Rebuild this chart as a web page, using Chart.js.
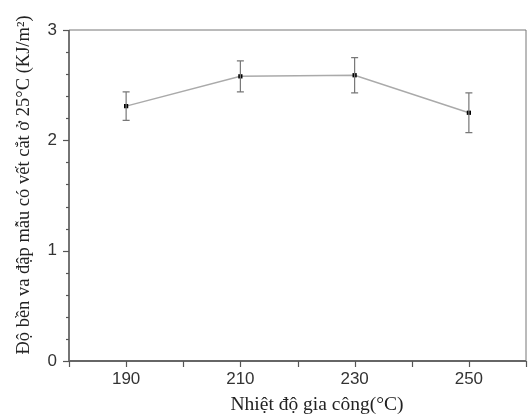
<!DOCTYPE html>
<html>
<head>
<meta charset="utf-8">
<script src="https://cdn.jsdelivr.net/npm/chart.js@4/dist/chart.umd.min.js"></script>
<style>
html,body{margin:0;padding:0;background:#fff;}
#wrap{width:530px;height:417px;position:relative;}
</style>
</head>
<body>
<div id="wrap"><canvas id="c" width="530" height="417"></canvas></div>
<script>
const temperatures = [190, 210, 230, 250];
const strength = [2.31, 2.58, 2.59, 2.25];
const errLow = [2.18, 2.44, 2.43, 2.07];
const errHigh = [2.44, 2.72, 2.75, 2.43];
const xLabelTicks = [190, 210, 230, 250];
const yLabelTicks = [0, 1, 2, 3];
const xTitle = 'Nhiệt độ gia công(°C)';
const yTitle = 'Độ bền va đập mẫu có vết cắt ở 25°C (KJ/m²)';

const overlay = {
  id: 'overlay',
  afterDatasetsDraw(chart) {
    const ctx = chart.ctx, a = chart.chartArea;
    const xs = chart.scales.x, ys = chart.scales.y;
    ctx.save();
    ctx.strokeStyle = '#777';
    ctx.lineWidth = 1.2;
    temperatures.forEach((t, i) => {
      const px = xs.getPixelForValue(t);
      const y1 = ys.getPixelForValue(errLow[i]);
      const y2 = ys.getPixelForValue(errHigh[i]);
      ctx.beginPath();
      ctx.moveTo(px, y1); ctx.lineTo(px, y2);
      ctx.moveTo(px - 3.5, y1); ctx.lineTo(px + 3.5, y1);
      ctx.moveTo(px - 3.5, y2); ctx.lineTo(px + 3.5, y2);
      ctx.stroke();
    });
    ctx.restore();
  },
  afterDraw(chart) {
    const ctx = chart.ctx, a = chart.chartArea;
    const xs = chart.scales.x, ys = chart.scales.y;
    ctx.save();
    ctx.strokeStyle = '#777';
    ctx.lineWidth = 1;
    ctx.beginPath();
    ctx.moveTo(a.left, a.top); ctx.lineTo(a.right, a.top);
    ctx.lineTo(a.right, a.bottom);
    ctx.stroke();
    ctx.strokeStyle = '#666';
    ctx.lineWidth = 1.8;
    ctx.beginPath();
    ctx.moveTo(a.left, a.top); ctx.lineTo(a.left, a.bottom); ctx.lineTo(a.right, a.bottom);
    ctx.stroke();
    ctx.lineWidth = 1.2;
    ctx.strokeStyle = '#555';
    for (let v = 0; v <= 3.0001; v += 0.2) {
      const py = Math.round(ys.getPixelForValue(v)) + 0.5;
      const major = Math.abs(v - Math.round(v)) < 1e-6;
      ctx.beginPath();
      ctx.moveTo(a.left, py); ctx.lineTo(a.left - (major ? 6 : 3), py);
      ctx.stroke();
    }
    for (let v = 180; v <= 260; v += 10) {
      const px = Math.round(xs.getPixelForValue(v)) + 0.5;
      ctx.beginPath();
      ctx.moveTo(px, a.bottom); ctx.lineTo(px, a.bottom + 6);
      ctx.stroke();
    }
    ctx.fillStyle = '#222';
    ctx.textAlign = 'center';
    ctx.textBaseline = 'middle';
    ctx.font = '19.5px "Liberation Serif", "DejaVu Serif", serif';
    ctx.fillText(xTitle, 317, 405);
    ctx.font = '18.5px "Liberation Serif", "DejaVu Serif", serif';
    ctx.translate(24, 185);
    ctx.rotate(-Math.PI / 2);
    ctx.fillText(yTitle, 0, 0);
    ctx.restore();
  }
};

new Chart(document.getElementById('c'), {
  type: 'scatter',
  data: {
    datasets: [{
      data: temperatures.map((t, i) => ({x: t, y: strength[i]})),
      showLine: true,
      borderColor: '#aaa',
      borderWidth: 1.5,
      pointStyle: 'rect',
      pointRadius: 3,
      pointBackgroundColor: '#000',
      pointBorderColor: '#000',
      pointBorderWidth: 0
    }]
  },
  options: {
    responsive: false,
    animation: false,
    devicePixelRatio: 1,
    layout: {padding: {left: 0, right: 2, top: 30, bottom: 0}},
    plugins: {legend: {display: false}, tooltip: {enabled: false}},
    scales: {
      x: {
        type: 'linear', min: 180, max: 260,
        afterFit(s) { s.height = 56; },
        afterBuildTicks(s) { s.ticks = xLabelTicks.map(v => ({value: v})); },
        grid: {display: false, drawTicks: false},
        border: {display: false},
        ticks: {color: '#333', padding: 8, font: {family: '"Liberation Sans", Arial, sans-serif', size: 17}}
      },
      y: {
        min: 0, max: 3,
        afterFit(s) { s.width = 69; },
        afterBuildTicks(s) { s.ticks = yLabelTicks.map(v => ({value: v})); },
        grid: {display: false, drawTicks: false},
        border: {display: false},
        ticks: {color: '#333', padding: 12, font: {family: '"Liberation Sans", Arial, sans-serif', size: 17}}
      }
    }
  },
  plugins: [overlay]
});
</script>
</body>
</html>
